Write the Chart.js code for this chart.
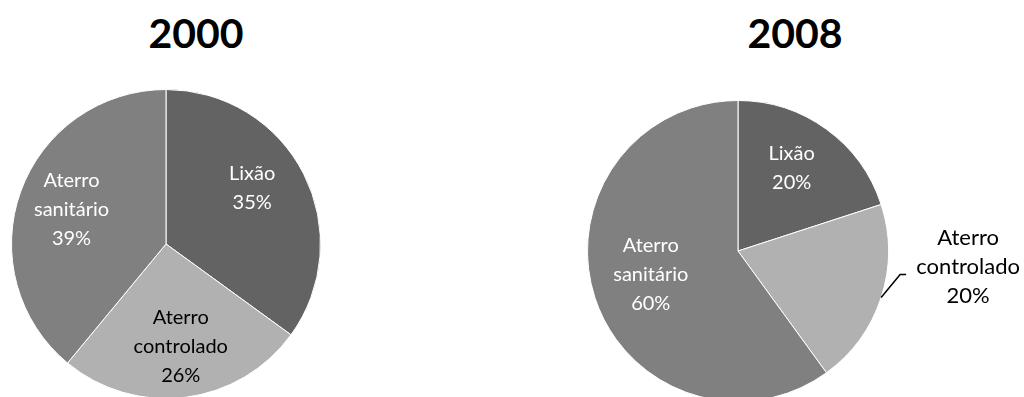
<!DOCTYPE html>
<html>
<head>
<meta charset="utf-8">
<script src="https://cdn.jsdelivr.net/npm/chart.js@4"></script>
<style>
  html, body { margin: 0; padding: 0; background: #fff; width: 1024px; height: 397px; overflow: hidden; }
  .title { position: absolute; top: 8px; width: 200px; text-align: center; font: bold 41px Lato, sans-serif; line-height: 50px; color: #000; }
  canvas { position: absolute; }
</style>
</head>
<body>
<div class="title" style="left:96px">2000</div>
<div class="title" style="left:695px">2008</div>
<canvas id="pie2000" width="310" height="310" style="left:11px;top:89px"></canvas>
<canvas id="pie2008" width="437" height="302" style="left:587px;top:100px"></canvas>
<script>
// Data
const categories = ['Lixão', 'Aterro controlado', 'Aterro sanitário'];
const values2000 = [35, 26, 39];
const values2008 = [20, 20, 60];

const sliceColors = ['#636363', '#b1b1b1', '#808080'];
// text colour inside each slice (dark text on the light slice)
const labelColors = ['#ffffff', '#000000', '#ffffff'];

// Draws the labels inside the slices (or outside with a leader line)
const sliceLabels = {
    id: 'sliceLabels',
    afterDatasetsDraw(chart, args, opts) {
        const ctx = chart.ctx;
        const meta = chart.getDatasetMeta(0);
        const values = chart.data.datasets[0].data;
        meta.data.forEach((arc, i) => {
            const p = arc.getProps(['x', 'y', 'startAngle', 'endAngle', 'outerRadius'], true);
            const mid = (p.startAngle + p.endAngle) / 2;
            const lines = chart.data.labels[i].split(' ').concat(values[i] + '%');
            let cx, cy, size;
            ctx.save();
            if (opts.outside[i]) {
                const ex = p.x + Math.cos(mid) * p.outerRadius;
                const ey = p.y + Math.sin(mid) * p.outerRadius;
                const bx = ex + 19, by = ey - 23;
                ctx.strokeStyle = '#000';
                ctx.lineWidth = 1.5;
                ctx.beginPath();
                ctx.moveTo(ex, ey);
                ctx.lineTo(bx, by);
                ctx.lineTo(bx + 6, by);
                ctx.stroke();
                cx = bx + 68;
                cy = by - 8;
                size = 22;
                ctx.fillStyle = '#000';
            } else {
                const a = mid + opts.nudge[i] * Math.PI / 180;
                const r = p.outerRadius * opts.radius[i];
                cx = p.x + Math.cos(a) * r;
                cy = p.y + Math.sin(a) * r;
                size = 20;
                ctx.fillStyle = labelColors[i];
            }
            ctx.font = size + 'px Lato, sans-serif';
            ctx.textAlign = 'center';
            ctx.textBaseline = 'middle';
            const lh = 29;
            lines.forEach((t, k) => {
                ctx.fillText(t, cx, cy + (k - (lines.length - 1) / 2) * lh);
            });
            ctx.restore();
        });
    }
};

function makePie(id, values, labelOpts, padding) {
    new Chart(document.getElementById(id), {
        type: 'pie',
        data: {
            labels: categories,
            datasets: [{
                data: values,
                backgroundColor: sliceColors,
                borderColor: '#ffffff',
                borderWidth: 1
            }]
        },
        options: {
            responsive: false,
            animation: false,
            layout: { padding: padding },
            plugins: {
                legend: { display: false },
                tooltip: { enabled: false },
                sliceLabels: labelOpts
            }
        },
        plugins: [sliceLabels]
    });
}

makePie('pie2000', values2000,
    { radius: [0.665, 0.67, 0.65], nudge: [-6, -1, 0], outside: [false, false, false] },
    0);
makePie('pie2008', values2008,
    { radius: [0.655, 0.66, 0.6], nudge: [-3, 0, 3], outside: [false, true, false] },
    { right: 135 });
</script>
</body>
</html>
